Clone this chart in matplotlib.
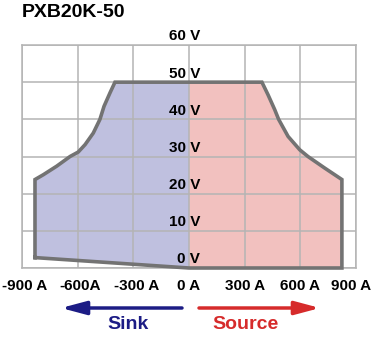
import matplotlib.pyplot as plt
from matplotlib.transforms import ScaledTranslation

plt.rcParams['font.family'] = ['Liberation Sans', 'DejaVu Sans']
plt.rcParams['font.weight'] = 'bold'

# Datos (A, V)
sink_amps = [0, -830, -830, -785, -713, -641, -597, -560, -516, -480, -458, -426, -399, 0]
sink_volts = [0, 2.8, 23.8, 25.1, 27.4, 30.0, 31.2, 33.2, 36.3, 40.0, 43.5, 47.1, 50, 50]
source_amps = [0, 393, 426, 462, 483, 534, 597, 641, 731, 824, 824, 0]
source_volts = [50, 50, 46.6, 42.6, 40.0, 35.4, 31.8, 30.0, 26.9, 23.8, 0, 0]

x_ticks = [-900, -600, -300, 0, 300, 600, 900]
x_labels = ["-900 A", "-600A", "-300 A", "0 A", "300 A", "600 A", "900 A"]
y_ticks = [0, 10, 20, 30, 40, 50, 60]
y_labels = ["0 V", "10 V", "20 V", "30 V", "40 V", "50 V", "60 V"]

grid_col = "#b4b4b4"

fig = plt.figure(figsize=(3.73, 3.39), dpi=100)
ax = fig.add_axes([22/373, 1 - 268/339, 334/373, 223/339])

# relleno de las dos zonas
ax.fill(sink_amps, sink_volts, color="#bfc0df", lw=0, zorder=1)
ax.fill(source_amps, source_volts, color="#f2c1bf", lw=0, zorder=1)

# contorno exterior
out_a = sink_amps[1:-1] + source_amps[1:] + [sink_amps[1]]
out_v = sink_volts[1:-1] + source_volts[1:] + [sink_volts[1]]
ax.plot(out_a, out_v, color="#737373", lw=2.6, solid_joinstyle="miter", zorder=3, clip_on=False)

ax.set_xlim(-900, 900)
ax.set_ylim(0, 60)
ax.set_xticks(x_ticks)
ax.set_xticklabels(x_labels, fontsize=11, fontweight="bold")
ax.set_yticks(y_ticks)
ax.set_yticklabels([])
ax.tick_params(length=0, pad=8)
ax.grid(True, color=grid_col, lw=1.1)
ax.set_axisbelow(False)
for s in ax.spines.values():
    s.set_color(grid_col)
    s.set_linewidth(1.1)

# pequeños desplazamientos de las etiquetas del eje x
shifts = [3, 2.5, 3, 0, 0, 0, -5]
for lab, dx in zip(ax.get_xticklabels(), shifts):
    lab.set_transform(lab.get_transform() + ScaledTranslation(dx/100, 0, fig.dpi_scale_trans))

# etiquetas de voltaje en el centro
for v, lab in zip(y_ticks, y_labels):
    ax.annotate(lab, xy=(0, v), xytext=(8, 3.3), textcoords="offset points",
                ha="right", va="baseline", fontsize=11, fontweight="bold",
                annotation_clip=False, zorder=4)

fig.text(22/373, 1 - 17.3/339, "PXB20K-50", fontsize=14, fontweight="bold", va="baseline")

# flechas Sink / Source
ax.annotate("", xy=(61, 31), xytext=(182, 31), xycoords="figure pixels", textcoords="figure pixels",
            arrowprops=dict(arrowstyle="-|>,head_length=0.75,head_width=0.2", mutation_scale=20,
                            color="#1c1c85", lw=2.5, shrinkA=0, shrinkB=0), annotation_clip=False)
ax.annotate("", xy=(320, 31), xytext=(199, 31), xycoords="figure pixels", textcoords="figure pixels",
            arrowprops=dict(arrowstyle="-|>,head_length=0.75,head_width=0.2", mutation_scale=20,
                            color="#d62b2b", lw=2.5, shrinkA=0, shrinkB=0), annotation_clip=False)
fig.text(127.5/373, 1 - 329/339, "Sink", color="#1c1c85", fontsize=14, fontweight="bold",
         ha="center", va="baseline")
fig.text(245.5/373, 1 - 329/339, "Source", color="#d62b2b", fontsize=14, fontweight="bold",
         ha="center", va="baseline")

fig.savefig("out.png", dpi=100)
